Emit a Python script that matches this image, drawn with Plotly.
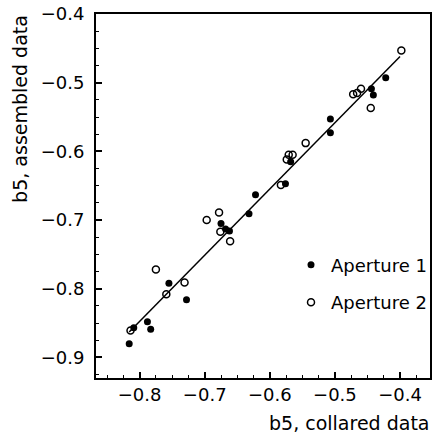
import plotly.graph_objects as go

# Aperture 1 (filled dots)
ap1_x = [-0.755, -0.728, -0.788, -0.783, -0.809, -0.816, -0.675, -0.668, -0.662,
         -0.632, -0.622, -0.576, -0.568, -0.507, -0.507, -0.422, -0.444, -0.441]
ap1_y = [-0.792, -0.816, -0.848, -0.859, -0.857, -0.880, -0.705, -0.713, -0.716,
         -0.691, -0.663, -0.647, -0.615, -0.553, -0.573, -0.493, -0.509, -0.518]

# Aperture 2 (open circles)
ap2_x = [-0.775, -0.731, -0.759, -0.814, -0.678, -0.697, -0.676, -0.661, -0.583,
         -0.571, -0.565, -0.574, -0.545, -0.398, -0.460, -0.466, -0.472, -0.445]
ap2_y = [-0.772, -0.791, -0.808, -0.861, -0.689, -0.700, -0.717, -0.731, -0.649,
         -0.605, -0.605, -0.612, -0.588, -0.453, -0.509, -0.515, -0.517, -0.537]

# fitted line end points
fit_x = [-0.816, -0.400]
fit_y = [-0.863, -0.462]

FONT = "DejaVu Sans"

fig = go.Figure()
fig.add_trace(go.Scatter(x=fit_x, y=fit_y, mode="lines",
                         line=dict(color="black", width=1.5), showlegend=False))
fig.add_trace(go.Scatter(x=ap1_x, y=ap1_y, mode="markers", name="Aperture 1",
                         legendgroup="a1",
                         marker=dict(symbol="circle", size=7, color="black")))
fig.add_trace(go.Scatter(x=ap2_x, y=ap2_y, mode="markers", name="Aperture 2",
                         legendgroup="a2",
                         marker=dict(symbol="circle-open", size=7, color="black",
                                     line=dict(width=1.5))))

axis_common = dict(
    showgrid=False, zeroline=False, showline=True, linecolor="black", linewidth=2,
    mirror=True, ticks="inside", ticklen=6, tickwidth=1.5, tickcolor="black",
    dtick=0.1, tick0=0, tickformat=".1f",
    tickfont=dict(family=FONT, size=18, color="black"),
    minor=dict(dtick=0.025, tick0=0, ticks="inside", ticklen=3, tickwidth=1,
               tickcolor="black"),
)

fig.update_xaxes(range=[-0.867, -0.354], ticklabelstandoff=-1, **axis_common)
fig.update_yaxes(range=[-0.930, -0.400], ticklabelstandoff=6, **axis_common)

fig.add_annotation(text="b5, collared data", xref="paper", yref="paper",
                   x=1.003, y=-0.123, xanchor="right", yanchor="middle",
                   showarrow=False, font=dict(family=FONT, size=19, color="black"))
fig.add_annotation(text="b5, assembled data", xref="paper", yref="paper",
                   x=-0.226, y=0.738, xanchor="center", yanchor="middle",
                   textangle=-90, showarrow=False,
                   font=dict(family=FONT, size=19, color="black"))

fig.update_layout(
    width=435, height=437,
    margin=dict(l=96, r=3, t=12, b=59),
    plot_bgcolor="white", paper_bgcolor="white",
    showlegend=True,
    legend=dict(x=1.006, y=0.361, xanchor="right", yanchor="top",
                traceorder="grouped", tracegroupgap=11,
                bgcolor="rgba(0,0,0,0)", borderwidth=0,
                font=dict(family=FONT, size=18, color="black")),
)

fig.write_html("out.html", config={"displayModeBar": False},
               post_script="document.body.style.margin='0';document.body.style.overflow='hidden';")
